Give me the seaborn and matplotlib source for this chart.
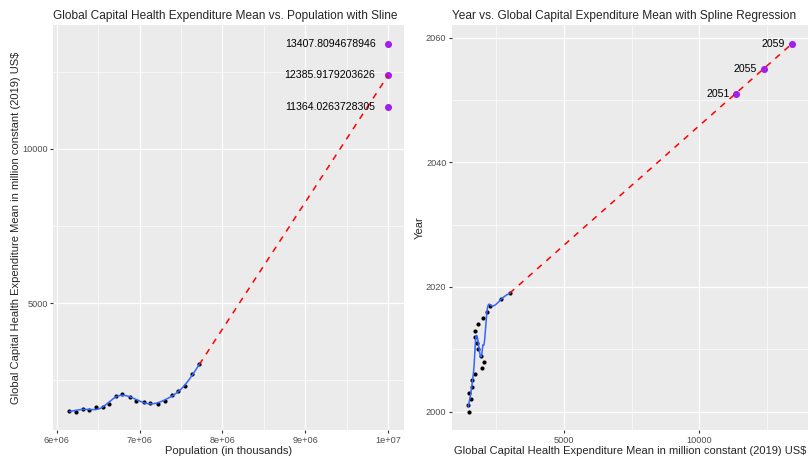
import numpy as np
import pandas as pd
import matplotlib
matplotlib.use("Agg")
import matplotlib.pyplot as plt
from matplotlib.ticker import FixedLocator
import seaborn as sns

# Observed series, 2000-2019
years = [2000, 2001, 2002, 2003, 2004, 2005, 2006, 2007, 2008, 2009,
         2010, 2011, 2012, 2013, 2014, 2015, 2016, 2017, 2018, 2019]
population = [6151000, 6232000, 6312000, 6391000, 6472000, 6552000, 6631000,
              6712000, 6792000, 6880000, 6960000, 7048000, 7128000, 7216000,
              7304000, 7384000, 7465000, 7552000, 7633000, 7720000]
expenditure = [1500, 1477, 1564, 1519, 1616, 1616, 1713, 1984, 2049, 1939,
               1833, 1800, 1745, 1736, 1823, 2017, 2156, 2295, 2683, 3006]

# Projections
pred_years = [2051, 2055, 2059]
pred_population = [10000000, 10000000, 10000000]
pred_values = [11364.0263728305, 12385.9179203626, 13407.8094678946]
pred_labels = ["11364.0263728305", "12385.9179203626", "13407.8094678946"]

x_ticks_pop = [6e6, 7e6, 8e6, 9e6, 1e7]
x_tick_labels_pop = ["6e+06", "7e+06", "8e+06", "9e+06", "1e+07"]

df = pd.DataFrame({"year": years, "population": population,
                   "expenditure": expenditure})
pred = pd.DataFrame({"year": pred_years, "population": pred_population,
                     "value": pred_values, "label": pred_labels})


def ns_fit(x, y, dof, n_out=300):
    """Natural cubic spline regression (ns-style basis), evaluated on a grid."""
    x = np.asarray(x, float)
    y = np.asarray(y, float)
    lo, hi = x.min(), x.max()
    u = (x - lo) / (hi - lo)
    inner = np.quantile(u, np.linspace(0, 1, dof + 1)[1:-1])
    knots = np.concatenate([[0.0], inner, [1.0]])

    def basis(t):
        K = len(knots)

        def d(k):
            return ((np.clip(t - knots[k], 0, None) ** 3
                     - np.clip(t - knots[-1], 0, None) ** 3)
                    / (knots[-1] - knots[k]))
        cols = [np.ones_like(t), t]
        last = d(K - 2)
        for k in range(K - 2):
            cols.append(d(k) - last)
        return np.column_stack(cols)

    coef, *_ = np.linalg.lstsq(basis(u), y, rcond=None)
    grid = np.linspace(0, 1, n_out)
    return lo + grid * (hi - lo), basis(grid) @ coef


def smooth_fit(x, y, lam, n=400):
    """Penalised (smoothing) spline on a fine grid."""
    x = np.asarray(x, float)
    y = np.asarray(y, float)
    lo, hi = x.min(), x.max()
    u = (x - lo) / (hi - lo)
    h = 1.0 / (n - 1)
    W = np.zeros((len(x), n))
    pos = u / h
    j = np.clip(np.floor(pos).astype(int), 0, n - 2)
    t = pos - j
    W[np.arange(len(x)), j] = 1 - t
    W[np.arange(len(x)), j + 1] = t
    D = np.diff(np.eye(n), 2, axis=0) / h ** 2
    A = W.T @ W + lam * h * D.T @ D
    f = np.linalg.solve(A, W.T @ y)
    return lo + np.linspace(0, 1, n) * (hi - lo), f


sns.set_theme(style="darkgrid", rc={
    "axes.facecolor": "#EBEBEB",
    "figure.facecolor": "white",
    "grid.color": "white",
    "axes.edgecolor": "#EBEBEB",
    "xtick.bottom": True, "ytick.left": True,
    "xtick.color": "#333333", "ytick.color": "#333333",
    "xtick.labelcolor": "#4D4D4D", "ytick.labelcolor": "#4D4D4D",
    "xtick.major.size": 2.5, "ytick.major.size": 2.5,
    "xtick.major.width": 0.8, "ytick.major.width": 0.8,
    "xtick.major.pad": 1.5, "ytick.major.pad": 1.5,
})
plt.rcParams["font.family"] = ["Liberation Sans", "DejaVu Sans"]

fig = plt.figure(figsize=(8.12, 4.58), dpi=100)
W, H = 812, 458
ax1 = fig.add_axes([53.5 / W, 1 - 430 / H, 350.5 / W, 404.5 / H])
ax2 = fig.add_axes([452 / W, 1 - 430 / H, 356 / W, 404.5 / H])

BLUE = "#3366FF"
PURPLE = "#A020F0"
tick_fs = 6.6
lab_fs = 8.0
title_fs = 8.6

# ---- Left: expenditure vs population ----
px, py = ns_fit(df["population"], df["expenditure"], 8)
ext1 = pd.DataFrame({"population": [population[-1], pred_population[1]],
                     "value": [expenditure[-1], pred_values[1]]})
sns.lineplot(data=ext1, x="population", y="value", ax=ax1, color="red",
             lw=1.1, linestyle=(0, (4, 4)))
sns.lineplot(x=px, y=py, ax=ax1, color=BLUE, lw=1.1)
sns.scatterplot(data=df, x="population", y="expenditure", ax=ax1,
                color="black", s=9, linewidth=0)
sns.scatterplot(data=pred, x="population", y="value", ax=ax1,
                color=PURPLE, s=26, linewidth=0)
for _, r in pred.iterrows():
    ax1.annotate(r["label"], (r["population"], r["value"]),
                 xytext=(-9, 0), textcoords="offset points",
                 ha="right", va="center", fontsize=7.6, color="black")
ax1.margins(x=0.05, y=0.05)
ax1.xaxis.set_major_locator(FixedLocator(x_ticks_pop))
ax1.set_xticklabels(x_tick_labels_pop)
ax1.set_yticks([5000, 10000])
ax1.set_xticks([6.5e6, 7.5e6, 8.5e6, 9.5e6], minor=True)
ax1.set_yticks([2500, 7500, 12500], minor=True)
ax1.grid(which="major", color="white", lw=0.9)
ax1.grid(which="minor", color="white", lw=0.45)
ax1.tick_params(axis="both", which="major", labelsize=tick_fs)
ax1.tick_params(axis="both", which="minor", length=0)
ax1.set_xlabel("Population (in thousands)", fontsize=lab_fs, labelpad=1)
ax1.set_ylabel("Global Capital Health Expenditure Mean in million constant (2019) US\\$",
               fontsize=lab_fs, labelpad=1)
ax1.set_title("Global Capital Health Expenditure Mean vs. Population with Sline",
              loc="left", fontsize=title_fs, pad=5)

# ---- Right: year vs expenditure ----
ex, ey = smooth_fit(df["expenditure"], df["year"], 5e-6)
ext2 = pd.DataFrame({"value": [expenditure[-1], pred_values[2]],
                     "year": [years[-1], pred_years[2]]})
sns.lineplot(data=ext2, x="value", y="year", ax=ax2, color="red",
             lw=1.1, linestyle=(0, (4, 4)))
sns.lineplot(x=ex, y=ey, ax=ax2, color=BLUE, lw=1.1, sort=False)
sns.scatterplot(data=df, x="expenditure", y="year", ax=ax2,
                color="black", s=9, linewidth=0)
sns.scatterplot(data=pred, x="value", y="year", ax=ax2,
                color=PURPLE, s=26, linewidth=0)
for _, r in pred.iterrows():
    ax2.annotate(str(r["year"]), (r["value"], r["year"]),
                 xytext=(-5, 0), textcoords="offset points",
                 ha="right", va="center", fontsize=7.6, color="black")
ax2.margins(x=0.05, y=0.05)
ax2.set_xticks([5000, 10000])
ax2.set_yticks([2000, 2020, 2040, 2060])
ax2.set_xticks([2500, 7500, 12500], minor=True)
ax2.set_yticks([2010, 2030, 2050], minor=True)
ax2.grid(which="major", color="white", lw=0.9)
ax2.grid(which="minor", color="white", lw=0.45)
ax2.tick_params(axis="both", which="major", labelsize=tick_fs)
ax2.tick_params(axis="both", which="minor", length=0)
ax2.set_xlabel("Global Capital Health Expenditure Mean in million constant (2019) US\\$",
               fontsize=lab_fs, labelpad=1)
ax2.set_ylabel("Year", fontsize=lab_fs, labelpad=1)
ax2.set_title("Year vs. Global Capital Expenditure Mean with Spline Regression",
              loc="left", fontsize=title_fs, pad=5)

for ax in (ax1, ax2):
    for sp in ax.spines.values():
        sp.set_visible(False)

fig.savefig("out.png", dpi=100)
